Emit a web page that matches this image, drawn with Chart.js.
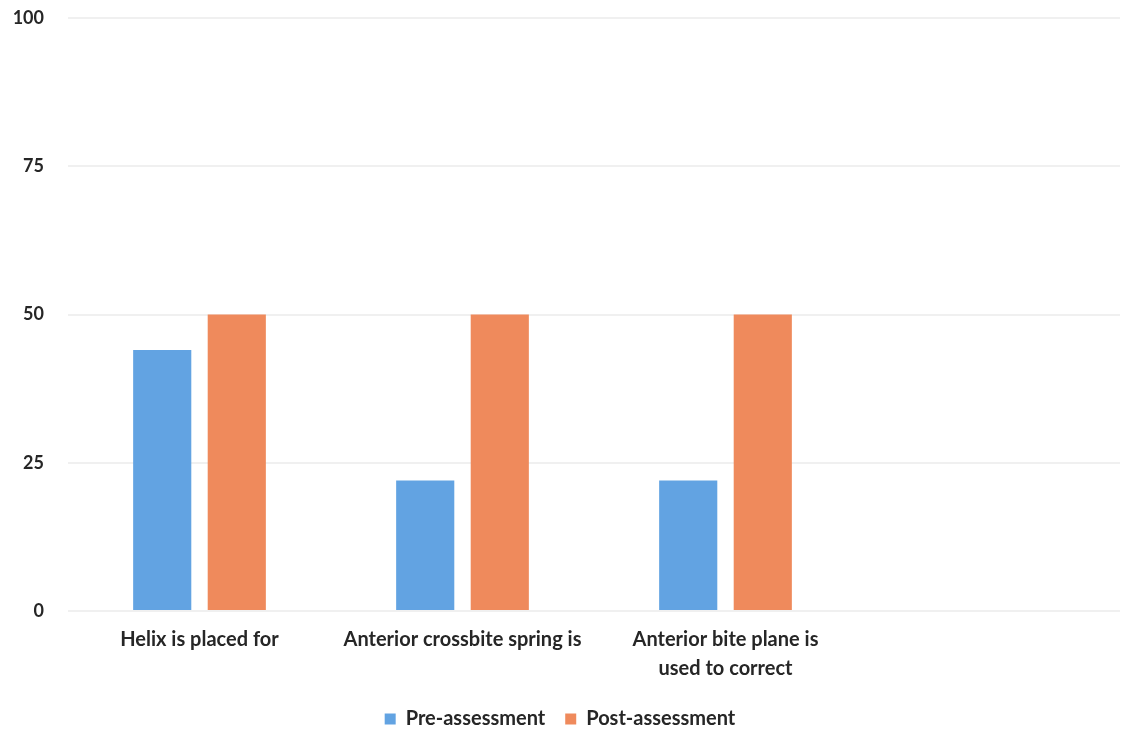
<!DOCTYPE html>
<html>
<head>
  <title>Assessment</title>
  <script src="https://cdn.jsdelivr.net/npm/chart.js"></script>
  <style>
    body { margin: 0; padding: 0; background: #fff; }
    #chart-container { width: 1143px; height: 753px; }
  </style>
</head>
<body>
  <div id="chart-container">
    <canvas id="myChart" width="1143" height="753"></canvas>
  </div>
  <script>
    const categories = [
      'Helix is placed for',
      'Anterior crossbite spring is',
      ['Anterior bite plane is', 'used to correct'],
      ''
    ];
    const preValues = [44, 22, 22, null];
    const postValues = [50, 50, 50, null];
    const yTicks = [0, 25, 50, 75, 100];

    Chart.defaults.font.family = 'Lato, "Open Sans", sans-serif';
    Chart.defaults.color = '#262626';

    const ctx = document.getElementById('myChart').getContext('2d');
    new Chart(ctx, {
      type: 'bar',
      data: {
        labels: categories,
        datasets: [{
          label: 'Pre-assessment',
          data: preValues,
          backgroundColor: '#62a3e2'
        }, {
          label: 'Post-assessment',
          data: postValues,
          backgroundColor: '#ef8a5c'
        }]
      },
      options: {
        responsive: false,
        animation: false,
        categoryPercentage: 0.567,
        barPercentage: 0.78,
        layout: { padding: { left: 0, right: 23, top: 18, bottom: 14 } },
        plugins: {
          tooltip: { enabled: false },
          legend: {
            position: 'bottom',
            labels: {
              boxWidth: 11,
              boxHeight: 11,
              padding: 20,
              font: { size: 20, weight: 'bold' }
            }
          }
        },
        scales: {
          x: {
            grid: { display: false },
            border: { display: false },
            ticks: {
              maxRotation: 0,
              autoSkip: false,
              padding: 6,
              font: { size: 20, weight: 'bold', lineHeight: 1.45 }
            }
          },
          y: {
            min: 0,
            max: 100,
            afterFit: s => {
              s.width = 68;
              s.paddingTop = 0;
              s.paddingBottom = 0;
            },
            afterBuildTicks: s => { s.ticks = yTicks.map(v => ({ value: v })); },
            grid: { color: '#f0f0f0', lineWidth: 2, drawTicks: false },
            border: { display: false },
            ticks: {
              padding: 24,
              font: { size: 18, weight: 'bold' }
            }
          }
        }
      }
    });
  </script>
</body>
</html>
